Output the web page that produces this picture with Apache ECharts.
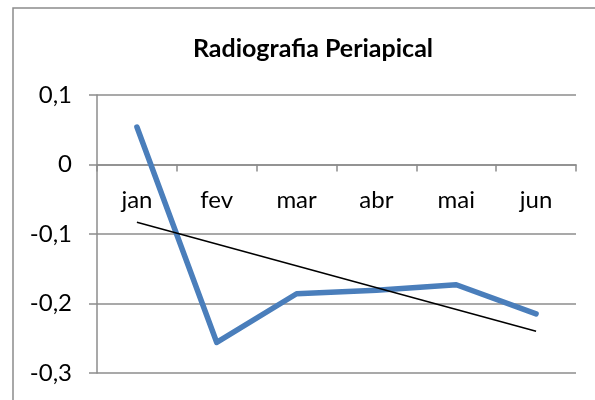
<!DOCTYPE html>
<html><head><meta charset="utf-8">
<script src="https://cdn.jsdelivr.net/npm/echarts@6/dist/echarts.min.js"></script>
<style>html,body{margin:0;padding:0;background:#fff}#c{width:595px;height:400px}</style>
</head><body><div id="c"></div>
<script>
const categories = ['jan','fev','mar','abr','mai','jun'];
const values = [0.054, -0.256, -0.186, -0.181, -0.173, -0.215];
const trendValues = [-0.083, null, null, null, null, -0.240];
const yTicks = {min: -0.3, max: 0.1, interval: 0.1};
const titleText = 'Radiografia Periapical';

const chart = echarts.init(document.getElementById('c'), null, {renderer: 'canvas'});
const font = 'Lato, "Open Sans", sans-serif';
const gray = '#8c8c8c';
chart.setOption({
  animation: false,
  backgroundColor: '#fff',
  title: {
    text: titleText, left: 308, top: 31, textAlign: 'center',
    textStyle: {fontFamily: font, fontSize: 25, fontWeight: 'bold', color: '#000'}
  },
  graphic: [{
    type: 'rect', shape: {x: 13, y: 8, width: 620, height: 430},
    style: {fill: 'none', stroke: gray, lineWidth: 1.5}, silent: true
  }],
  grid: [
    {left: 97, right: 19, top: 95, bottom: 27, containLabel: false, outerBoundsMode: 'none'},
    {left: 97, right: 19, top: 95, bottom: 235.5, containLabel: false, outerBoundsMode: 'none'}
  ],
  xAxis: [{
    type: 'category', data: categories, boundaryGap: true, gridIndex: 0,
    axisLine: {show: false}, axisTick: {show: false}, axisLabel: {show: false},
    splitLine: {show: false}
  }, {
    type: 'category', data: categories, boundaryGap: true, gridIndex: 1, position: 'bottom',
    axisLine: {show: true, onZero: false, lineStyle: {color: gray, width: 1.5}},
    axisTick: {show: true, inside: false, length: 7, alignWithLabel: false, lineStyle: {color: gray, width: 1.5}},
    axisLabel: {margin: 24, fontFamily: font, fontSize: 24, color: '#000'},
    splitLine: {show: false}
  }],
  yAxis: [{
    type: 'value', min: yTicks.min, max: yTicks.max, interval: yTicks.interval, gridIndex: 0,
    axisLine: {show: true, lineStyle: {color: gray, width: 1.5}},
    axisTick: {show: true, length: 8, lineStyle: {color: gray, width: 1.5}},
    axisLabel: {margin: 25, fontFamily: font, fontSize: 24, color: '#000',
      formatter: v => String(+v.toFixed(1)).replace('.', ',')},
    splitLine: {show: true, lineStyle: {color: gray, width: 1.5}}
  }, {
    type: 'value', gridIndex: 1, show: false, min: 0, max: 1
  }],
  series: [{
    type: 'line', data: values, symbol: 'none', xAxisIndex: 0, yAxisIndex: 0,
    lineStyle: {color: '#4a7ebb', width: 5.5, cap: 'round', join: 'round'}, z: 3
  }, {
    type: 'line', data: trendValues, connectNulls: true, symbol: 'none', xAxisIndex: 0, yAxisIndex: 0,
    lineStyle: {color: '#000', width: 1.5}, z: 4
  }]
});
</script></body></html>
